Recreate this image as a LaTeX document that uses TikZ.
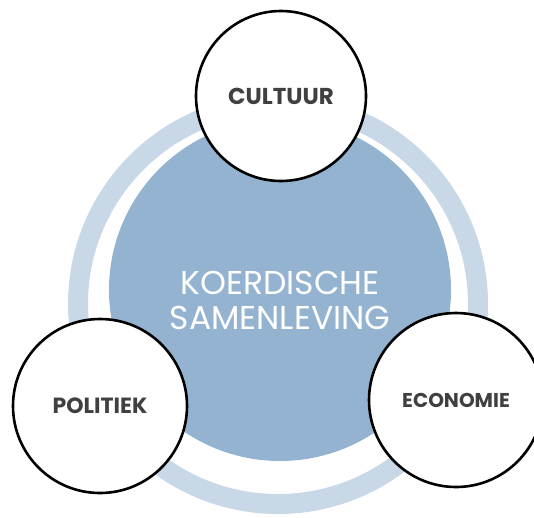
\documentclass[tikz,border=0pt]{standalone}
\usepackage{fontspec}
\setmainfont{Poppins}
\definecolor{diskblue}{HTML}{93B3D0}
\definecolor{ringblue}{HTML}{C8D8E7}
\definecolor{labelgray}{HTML}{404040}
\begin{document}
\begin{tikzpicture}[x=1pt,y=-1pt,
    topic/.style={circle,draw=black,line width=2.6pt,fill=white,minimum size=174pt,inner sep=0pt,
      font=\bfseries\fontsize{21}{24}\selectfont,text=labelgray}]
  \useasboundingbox (0,0) rectangle (534,517);

  % light ring round the centre
  \draw[ringblue,line width=20pt] (278,304) circle[radius=200pt];

  % the centre disk and its text
  \node[circle,fill=diskblue,minimum size=342pt,inner sep=0pt] (society) at (280,290) {};
  \node[align=center,text=white,font=\fontsize{33}{35}\selectfont] (societytext) at (280,300) {KOERDISCHE\\SAMENLEVING};

  % the three topics
  \node[topic,minimum size=170pt] (culture) at (281,96) {\fontsize{23}{26}\selectfont CULTUUR};
  \node[topic,font=\bfseries\fontsize{22}{24}\selectfont] (politics) at (100,406) {POLITIEK};
  \node[topic,font=\bfseries\fontsize{20}{24}\selectfont] (economy) at (456,400) {ECONOMIE};
\end{tikzpicture}
\end{document}
